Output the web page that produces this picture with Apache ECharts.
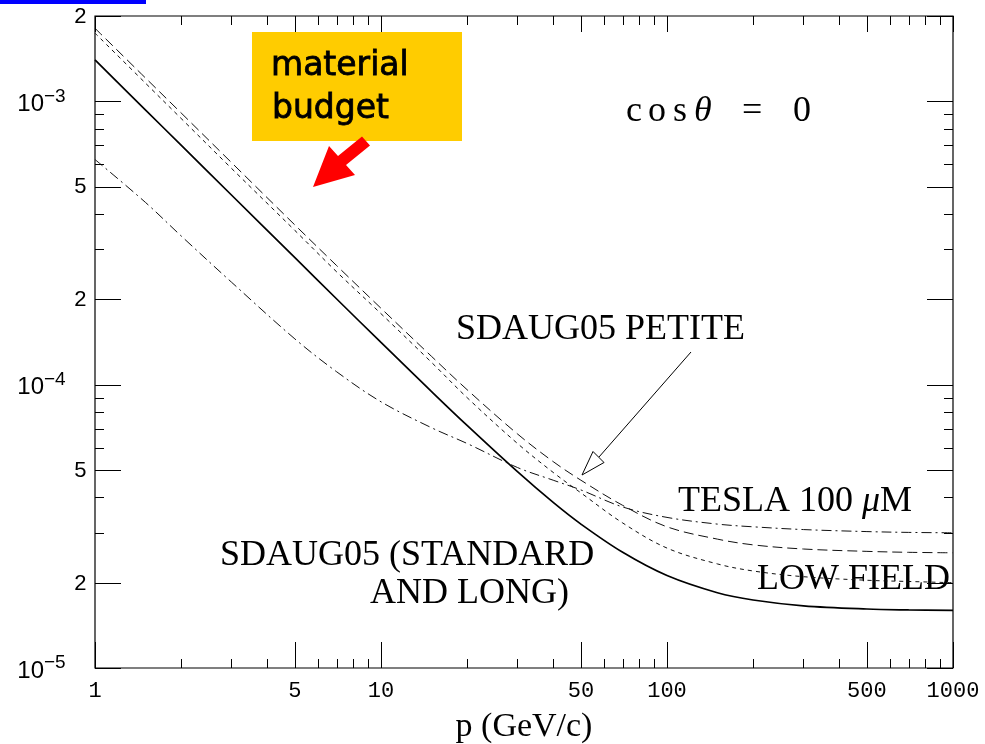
<!DOCTYPE html>
<html>
<head>
<meta charset="utf-8">
<script src="https://cdn.jsdelivr.net/npm/echarts@6/dist/echarts.min.js"></script>
<style>
  html, body { margin: 0; padding: 0; background: #fff; }
  #chart { width: 985px; height: 744px; }
</style>
</head>
<body>
<div id="chart"></div>
<script>
// Momentum sampling points (GeV/c)
const momenta = [1, 1.5, 2, 3, 5, 7, 10, 15, 20, 30, 40, 50, 70, 100, 150, 200, 300, 500, 700, 1000];

// Resolution curves, one value per momentum point
const sdaugStandard = [1.40e-3, 9.33e-4, 7.0e-4, 4.67e-4, 2.805e-4, 2.006e-4, 1.409e-4, 9.47e-5, 7.18e-5, 4.93e-5,
                       3.84e-5, 3.22e-5, 2.56e-5, 2.12e-5, 1.844e-5, 1.738e-5, 1.658e-5, 1.615e-5, 1.603e-5, 1.596e-5];
const sdaugPetite   = [1.81e-3, 1.21e-3, 9.1e-4, 6.08e-4, 3.66e-4, 2.63e-4, 1.86e-4, 1.26e-4, 9.6e-5, 6.7e-5,
                       5.35e-5, 4.6e-5, 3.75e-5, 3.15e-5, 2.85e-5, 2.72e-5, 2.63e-5, 2.58e-5, 2.56e-5, 2.55e-5];
const lowField      = [1.74e-3, 1.16e-3, 8.7e-4, 5.8e-4, 3.5e-4, 2.5e-4, 1.78e-4, 1.2e-4, 9.0e-5, 6.2e-5,
                       4.9e-5, 4.15e-5, 3.25e-5, 2.65e-5, 2.33e-5, 2.2e-5, 2.1e-5, 2.04e-5, 2.02e-5, 2.0e-5];
const tesla100      = [6.23e-4, 4.4e-4, 3.35e-4, 2.3e-4, 1.45e-4, 1.11e-4, 8.7e-5, 7.05e-5, 6.2e-5, 5.1e-5,
                       4.6e-5, 4.25e-5, 3.7e-5, 3.4e-5, 3.22e-5, 3.15e-5, 3.08e-5, 3.03e-5, 3.01e-5, 3.0e-5];

// Axis ranges and tick marks
const X_MIN = 1, X_MAX = 1000, Y_MIN = 1e-5, Y_MAX = 2e-3;
const xMajorTicks = [1, 5, 10, 50, 100, 500, 1000];
const xMajorLabels = ['1', '5', '10', '50', '100', '500', '1000'];
const xMinorTicks = [2, 3, 4, 6, 7, 8, 9, 20, 30, 40, 60, 70, 80, 90, 200, 300, 400, 600, 700, 800, 900];
const yDigitTicks = [2e-5, 5e-5, 2e-4, 5e-4, 2e-3];
const yDigitLabels = ['2', '5', '2', '5', '2'];
const yPowerTicks = [1e-5, 1e-4, 1e-3];
const yPowerExponents = ['\u22125', '\u22124', '\u22123'];
const yMinorTicks = [3e-5, 4e-5, 6e-5, 7e-5, 8e-5, 9e-5, 3e-4, 4e-4, 6e-4, 7e-4, 8e-4, 9e-4];

const pair = (xs, ys) => xs.map((x, i) => [x, ys[i]]);
const crisp = v => Math.round(v) + 0.5;
const TICK_STYLE = { stroke: '#000', lineWidth: 1 };

// Ticks on bottom (and mirrored on top) for each x value
function xTickSeries(values, lenBottom, lenTop) {
  return {
    type: 'custom', silent: true, z: 4, clip: false,
    data: values.map(v => [v, Y_MIN]),
    renderItem(params, api) {
      const v = api.value(0);
      const b = api.coord([v, Y_MIN]);
      const t = api.coord([v, Y_MAX]);
      const x = crisp(b[0]);
      return { type: 'group', children: [
        { type: 'line', shape: { x1: x, y1: b[1], x2: x, y2: b[1] - lenBottom }, style: TICK_STYLE },
        { type: 'line', shape: { x1: x, y1: t[1], x2: x, y2: t[1] + lenTop }, style: TICK_STYLE }
      ] };
    }
  };
}

// Ticks on left (and mirrored on right) for each y value
function yTickSeries(values, len) {
  return {
    type: 'custom', silent: true, z: 4, clip: false,
    data: values.map(v => [X_MIN, v]),
    renderItem(params, api) {
      const v = api.value(1);
      const l = api.coord([X_MIN, v]);
      const r = api.coord([X_MAX, v]);
      const y = crisp(l[1]);
      return { type: 'group', children: [
        { type: 'line', shape: { x1: l[0], y1: y, x2: l[0] + len, y2: y }, style: TICK_STYLE },
        { type: 'line', shape: { x1: r[0], y1: y, x2: r[0] - len, y2: y }, style: TICK_STYLE }
      ] };
    }
  };
}

const xLabelSeries = {
  type: 'custom', silent: true, z: 4, clip: false,
  data: xMajorTicks.map(v => [v, Y_MIN]),
  renderItem(params, api) {
    const p = api.coord([api.value(0), Y_MIN]);
    return { type: 'text', x: p[0], y: p[1] + 23, style: {
      text: xMajorLabels[params.dataIndex], fontFamily: 'Liberation Mono', fontSize: 22,
      fill: '#000', align: 'center', verticalAlign: 'middle' } };
  }
};

const yDigitLabelSeries = {
  type: 'custom', silent: true, z: 4, clip: false,
  data: yDigitTicks.map(v => [X_MIN, v]),
  renderItem(params, api) {
    const p = api.coord([X_MIN, api.value(1)]);
    return { type: 'text', x: p[0] - 8, y: p[1] + 1, style: {
      text: yDigitLabels[params.dataIndex], fontFamily: 'Liberation Mono', fontSize: 22,
      fill: '#000', align: 'right', verticalAlign: 'middle' } };
  }
};

const yPowerLabelSeries = {
  type: 'custom', silent: true, z: 4, clip: false,
  data: yPowerTicks.map(v => [X_MIN, v]),
  renderItem(params, api) {
    const p = api.coord([X_MIN, api.value(1)]);
    return { type: 'group', children: [
      { type: 'text', x: p[0] - 51, y: p[1] + 3, style: {
        text: '10', fontFamily: 'Liberation Sans', fontSize: 24, fill: '#000',
        align: 'right', verticalAlign: 'middle' } },
      { type: 'text', x: p[0] - 51, y: p[1] - 5, style: {
        text: yPowerExponents[params.dataIndex], fontFamily: 'Liberation Sans', fontSize: 19, fill: '#000',
        align: 'left', verticalAlign: 'middle' } }
    ] };
  }
};

const SERIF = 'Liberation Serif';
const labelFont = { fontFamily: SERIF, fontSize: 36, fill: '#000', verticalAlign: 'middle' };
const budgetFont = '"Comic Sans MS", "DejaVu Sans"';
const mathFont = { fontFamily: SERIF, fontSize: 36, fill: '#000', verticalAlign: 'middle' };

const chart = echarts.init(document.getElementById('chart'));
chart.setOption({
  animation: false,
  backgroundColor: '#fff',
  grid: { left: 95, right: 32, top: 16, bottom: 76, outerBoundsMode: 'none', containLabel: false,
          show: true, borderColor: '#000', borderWidth: 1.2, backgroundColor: 'transparent' },
  xAxis: {
    type: 'log', logBase: 10, min: X_MIN, max: X_MAX,
    axisLine: { show: false }, axisTick: { show: false }, axisLabel: { show: false }, splitLine: { show: false },
    name: 'p (GeV/c)', nameLocation: 'middle', nameGap: 59,
    nameTextStyle: { fontFamily: SERIF, fontSize: 34, color: '#000', verticalAlign: 'middle' }
  },
  yAxis: {
    type: 'log', logBase: 10, min: Y_MIN, max: Y_MAX,
    axisLine: { show: false }, axisTick: { show: false }, axisLabel: { show: false }, splitLine: { show: false }
  },
  series: [
    { name: 'SDAUG05', type: 'line', data: pair(momenta, sdaugStandard), showSymbol: false, smooth: 0.35, z: 3,
      lineStyle: { color: '#000', width: 1.7, type: 'solid' } },
    { name: 'SDAUG05 PETITE', type: 'line', data: pair(momenta, sdaugPetite), showSymbol: false, smooth: 0.35, z: 3,
      lineStyle: { color: '#111', width: 1, type: [10, 5] } },
    { name: 'LOW FIELD', type: 'line', data: pair(momenta, lowField), showSymbol: false, smooth: 0.35, z: 3,
      lineStyle: { color: '#111', width: 1, type: [4, 4] } },
    { name: 'TESLA 100 \u03bcM', type: 'line', data: pair(momenta, tesla100), showSymbol: false, smooth: 0.35, z: 3,
      lineStyle: { color: '#111', width: 1, type: [10, 4, 2, 4] } },
    xTickSeries(xMajorTicks, 26, 16),
    xTickSeries(xMinorTicks, 9, 9),
    yTickSeries(yDigitTicks.concat(yPowerTicks), 26),
    yTickSeries(yMinorTicks, 9),
    xLabelSeries,
    yDigitLabelSeries,
    yPowerLabelSeries
  ],
  graphic: [
    { type: 'rect', shape: { x: 0, y: 0, width: 146, height: 4 }, style: { fill: '#0000ff' } },
    { type: 'rect', shape: { x: 252, y: 32, width: 210, height: 109 }, style: { fill: '#ffcc00' } },
    { type: 'text', x: 271, y: 66, style: { text: 'material', fontFamily: budgetFont, fontSize: 33, fill: '#000', stroke: '#000', lineWidth: 0.8, verticalAlign: 'middle' } },
    { type: 'text', x: 272, y: 109, style: { text: 'budget', fontFamily: budgetFont, fontSize: 33, fill: '#000', stroke: '#000', lineWidth: 0.8, verticalAlign: 'middle' } },
    { type: 'polygon', shape: { points: [[362, 136.5], [338, 156], [329, 146], [313, 187], [355, 175], [346, 165], [370, 145.5]] },
      style: { fill: '#ff0000' } },
    // cos(theta) = 0
    { type: 'text', x: 626, y: 112, style: Object.assign({ text: 'c' }, mathFont) },
    { type: 'text', x: 648, y: 112, style: Object.assign({ text: 'o' }, mathFont) },
    { type: 'text', x: 673, y: 112, style: Object.assign({ text: 's' }, mathFont) },
    { type: 'text', x: 694, y: 112, style: Object.assign({ text: '\u03b8', fontStyle: 'italic' }, mathFont) },
    { type: 'text', x: 742, y: 112, style: Object.assign({ text: '=' }, mathFont) },
    { type: 'text', x: 793, y: 112, style: Object.assign({ text: '0' }, mathFont) },
    // curve labels
    { type: 'text', x: 456, y: 330, style: Object.assign({ text: 'SDAUG05 PETITE' }, labelFont) },
    { type: 'polyline', shape: { points: [[691, 352], [599, 457]] }, style: { stroke: '#000', lineWidth: 1, fill: null } },
    { type: 'polygon', shape: { points: [[582, 475], [593, 451.5], [604, 462.5]] }, style: { stroke: '#000', lineWidth: 1, fill: '#fff' } },
    { type: 'text', x: 220, y: 556, style: Object.assign({ text: 'SDAUG05 (STANDARD' }, labelFont) },
    { type: 'text', x: 370, y: 594, style: Object.assign({ text: 'AND LONG)' }, labelFont) },
    { type: 'text', x: 678, y: 502, style: {
      text: '{a|TESLA 100 }{m|\u03bc}{a|M}', verticalAlign: 'middle',
      rich: { a: { fontFamily: SERIF, fontSize: 36, color: '#000' },
              m: { fontFamily: SERIF, fontSize: 36, fontStyle: 'italic', color: '#000' } } } },
    { type: 'text', x: 757, y: 580, style: Object.assign({ text: 'LOW FIELD' }, labelFont) }
  ]
});
</script>
</body>
</html>
